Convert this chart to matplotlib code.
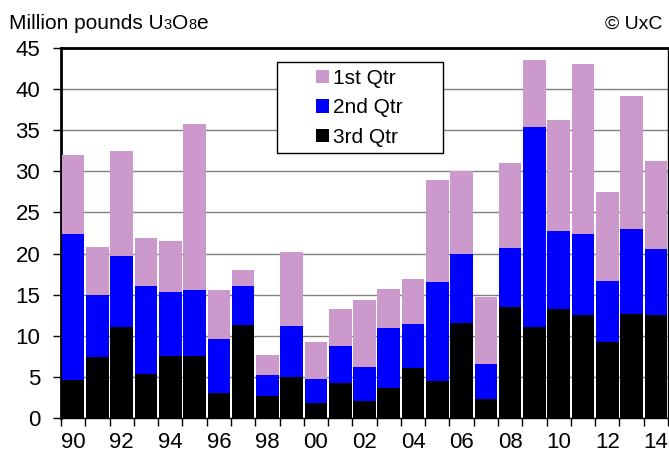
import matplotlib
matplotlib.use("Agg")
import matplotlib.pyplot as plt
from matplotlib.patches import Rectangle
import numpy as np

plt.rcParams['font.family'] = ['Liberation Sans', 'DejaVu Sans']

years = ["90", "91", "92", "93", "94", "95", "96", "97", "98", "99", "00", "01", "02",
         "03", "04", "05", "06", "07", "08", "09", "10", "11", "12", "13", "14"]
# cumulative tops
q3_top = [4.6, 7.4, 11.1, 5.4, 7.5, 7.6, 3.1, 11.3, 2.7, 5.0, 1.8, 4.2, 2.1,
          3.7, 6.1, 4.5, 11.5, 2.3, 13.5, 11.1, 13.2, 12.5, 9.3, 12.7, 12.5]
q2_top = [22.4, 15.0, 19.7, 16.1, 15.3, 15.6, 9.6, 16.1, 5.2, 11.2, 4.8, 8.8, 6.2,
          10.9, 11.4, 16.6, 19.9, 6.6, 20.7, 35.4, 22.8, 22.4, 16.7, 23.0, 20.6]
q1_top = [32.0, 20.8, 32.5, 21.9, 21.5, 35.7, 15.6, 18.0, 7.7, 20.2, 9.3, 13.2, 14.4,
          15.7, 16.9, 29.0, 30.0, 14.7, 31.0, 43.6, 36.2, 43.0, 27.5, 39.2, 31.2]

q3 = np.array(q3_top)
q2 = np.array(q2_top) - q3
q1 = np.array(q1_top) - np.array(q2_top)

W, H = 669, 455
fig = plt.figure(figsize=(W/100, H/100), dpi=100)
ax = fig.add_axes([61/W, 1-418/H, 607/W, 370/H])

x = np.arange(len(years))
w = 0.93
b3 = ax.bar(x, q3, width=w, color='black', zorder=3, label='3rd Qtr')
b2 = ax.bar(x, q2, width=w, bottom=q3, color='#0000FF', zorder=3, label='2nd Qtr')
b1 = ax.bar(x, q1, width=w, bottom=q3 + q2, color='#CC99CC', zorder=3, label='1st Qtr')

ax.set_xlim(-0.5, len(years) - 0.5)
ax.set_ylim(0, 45)
ax.set_yticks(np.arange(0, 46, 5))
ax.yaxis.grid(True, color='#808080', linewidth=1.0, zorder=0)
ax.set_axisbelow(True)

ax.set_xticks(np.arange(-0.5, len(years), 1))
ax.set_xticklabels([])
ax.set_xticks(x[::2], minor=True)
ax.set_xticklabels(years[::2], minor=True)
ax.tick_params(axis='x', which='major', length=6, width=1, direction='out')
ax.tick_params(axis='x', which='minor', length=0, pad=10, labelsize=16)
ax.tick_params(axis='y', length=6, width=1, labelsize=16, pad=9)

for s in ['top', 'left']:
    ax.spines[s].set_linewidth(2)
for s in ['right', 'bottom']:
    ax.spines[s].set_linewidth(1)

# legend frame
frame = Rectangle((277/W, 1-153/H), (443-277)/W, (153-62)/H, transform=fig.transFigure,
                  facecolor='white', edgecolor='black', linewidth=1, zorder=4)
fig.patches.append(frame)

leg = fig.legend([b1, b2, b3], ['1st Qtr', '2nd Qtr', '3rd Qtr'],
                 loc='upper left', bbox_to_anchor=(316/W, 1-69/H),
                 frameon=False, fontsize=15,
                 handlelength=0.62, handleheight=0.62, handletextpad=0.2,
                 labelspacing=0.5, borderpad=0, borderaxespad=0)
leg.set_zorder(5)

# title with small digits
renderer = fig.canvas.get_renderer()
pieces = [("Million pounds U", 15), ("3", 10.5), ("O", 15), ("8", 10.5), ("e", 15)]
xpos = 9
ybase = 1 - 29/H
for txt, fs in pieces:
    t = fig.text(xpos/W, ybase, txt, fontsize=fs, va='baseline', ha='left')
    bb = t.get_window_extent(renderer=renderer)
    xpos += bb.width
fig.text(662/W, ybase, "© UxC", fontsize=14, va='baseline', ha='right')

fig.savefig("out.png", dpi=100)
